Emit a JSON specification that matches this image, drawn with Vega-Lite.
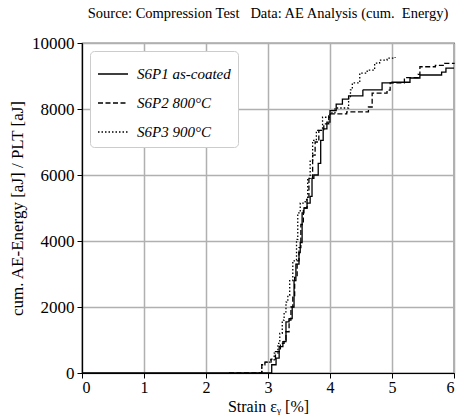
{
  "$schema": "https://vega.github.io/schema/vega-lite/v6.json",
  "autosize": "none",
  "width": 372,
  "height": 330,
  "padding": {"left": 82, "top": 43, "right": 2, "bottom": 42},
  "background": "white",
  "title": {
    "text": "Source: Compression Test\u00a0\u00a0\u00a0Data: AE Analysis (cum.\u00a0\u00a0Energy)",
    "font": "Liberation Serif",
    "fontSize": 14.5,
    "fontWeight": "normal",
    "color": "black",
    "anchor": "middle",
    "offset": 13
  },
  "datasets": {
    "curves": [
      {"series": "S6P1 as-coated", "strain": 0, "energy": 0},
      {"series": "S6P1 as-coated", "strain": 3.06, "energy": 250},
      {"series": "S6P1 as-coated", "strain": 3.13, "energy": 450},
      {"series": "S6P1 as-coated", "strain": 3.18, "energy": 800},
      {"series": "S6P1 as-coated", "strain": 3.24, "energy": 950},
      {"series": "S6P1 as-coated", "strain": 3.29, "energy": 1550},
      {"series": "S6P1 as-coated", "strain": 3.34, "energy": 1650},
      {"series": "S6P1 as-coated", "strain": 3.39, "energy": 2000},
      {"series": "S6P1 as-coated", "strain": 3.42, "energy": 2800},
      {"series": "S6P1 as-coated", "strain": 3.45, "energy": 3300},
      {"series": "S6P1 as-coated", "strain": 3.5, "energy": 3650},
      {"series": "S6P1 as-coated", "strain": 3.52, "energy": 3950},
      {"series": "S6P1 as-coated", "strain": 3.55, "energy": 4850},
      {"series": "S6P1 as-coated", "strain": 3.58, "energy": 5000},
      {"series": "S6P1 as-coated", "strain": 3.63, "energy": 5150},
      {"series": "S6P1 as-coated", "strain": 3.68, "energy": 5350},
      {"series": "S6P1 as-coated", "strain": 3.71, "energy": 5900},
      {"series": "S6P1 as-coated", "strain": 3.74, "energy": 6000},
      {"series": "S6P1 as-coated", "strain": 3.81, "energy": 6350},
      {"series": "S6P1 as-coated", "strain": 3.85, "energy": 7050},
      {"series": "S6P1 as-coated", "strain": 3.89, "energy": 7400},
      {"series": "S6P1 as-coated", "strain": 3.95, "energy": 7600},
      {"series": "S6P1 as-coated", "strain": 4.0, "energy": 7950},
      {"series": "S6P1 as-coated", "strain": 4.1, "energy": 8150},
      {"series": "S6P1 as-coated", "strain": 4.2, "energy": 8300},
      {"series": "S6P1 as-coated", "strain": 4.3, "energy": 8400},
      {"series": "S6P1 as-coated", "strain": 4.53, "energy": 8580},
      {"series": "S6P1 as-coated", "strain": 4.84, "energy": 8790},
      {"series": "S6P1 as-coated", "strain": 5.0, "energy": 8810},
      {"series": "S6P1 as-coated", "strain": 5.29, "energy": 8940},
      {"series": "S6P1 as-coated", "strain": 5.45, "energy": 9030},
      {"series": "S6P1 as-coated", "strain": 5.8, "energy": 9120},
      {"series": "S6P1 as-coated", "strain": 5.87, "energy": 9240},
      {"series": "S6P1 as-coated", "strain": 6.0, "energy": 9240},

      {"series": "S6P2 800°C", "strain": 2.37, "energy": 0},
      {"series": "S6P2 800°C", "strain": 2.9, "energy": 250},
      {"series": "S6P2 800°C", "strain": 2.95, "energy": 330},
      {"series": "S6P2 800°C", "strain": 3.05, "energy": 420},
      {"series": "S6P2 800°C", "strain": 3.12, "energy": 650},
      {"series": "S6P2 800°C", "strain": 3.2, "energy": 900},
      {"series": "S6P2 800°C", "strain": 3.26, "energy": 1000},
      {"series": "S6P2 800°C", "strain": 3.29, "energy": 1250},
      {"series": "S6P2 800°C", "strain": 3.34, "energy": 1600},
      {"series": "S6P2 800°C", "strain": 3.37, "energy": 2000},
      {"series": "S6P2 800°C", "strain": 3.4, "energy": 2300},
      {"series": "S6P2 800°C", "strain": 3.43, "energy": 2900},
      {"series": "S6P2 800°C", "strain": 3.47, "energy": 3400},
      {"series": "S6P2 800°C", "strain": 3.5, "energy": 3800},
      {"series": "S6P2 800°C", "strain": 3.53, "energy": 4500},
      {"series": "S6P2 800°C", "strain": 3.57, "energy": 5000},
      {"series": "S6P2 800°C", "strain": 3.63, "energy": 5300},
      {"series": "S6P2 800°C", "strain": 3.66, "energy": 5900},
      {"series": "S6P2 800°C", "strain": 3.72, "energy": 6600},
      {"series": "S6P2 800°C", "strain": 3.76, "energy": 7000},
      {"series": "S6P2 800°C", "strain": 3.82, "energy": 7350},
      {"series": "S6P2 800°C", "strain": 3.9, "energy": 7550},
      {"series": "S6P2 800°C", "strain": 3.98, "energy": 7850},
      {"series": "S6P2 800°C", "strain": 4.27, "energy": 7910},
      {"series": "S6P2 800°C", "strain": 4.62, "energy": 8060},
      {"series": "S6P2 800°C", "strain": 4.68, "energy": 8480},
      {"series": "S6P2 800°C", "strain": 4.92, "energy": 8570},
      {"series": "S6P2 800°C", "strain": 4.97, "energy": 8790},
      {"series": "S6P2 800°C", "strain": 5.2, "energy": 8950},
      {"series": "S6P2 800°C", "strain": 5.42, "energy": 9050},
      {"series": "S6P2 800°C", "strain": 5.45, "energy": 9280},
      {"series": "S6P2 800°C", "strain": 5.7, "energy": 9320},
      {"series": "S6P2 800°C", "strain": 5.85, "energy": 9380},
      {"series": "S6P2 800°C", "strain": 6.0, "energy": 9400},

      {"series": "S6P3 900°C", "strain": 2.85, "energy": 0},
      {"series": "S6P3 900°C", "strain": 2.9, "energy": 250},
      {"series": "S6P3 900°C", "strain": 2.95, "energy": 330},
      {"series": "S6P3 900°C", "strain": 3.03, "energy": 400},
      {"series": "S6P3 900°C", "strain": 3.1, "energy": 600},
      {"series": "S6P3 900°C", "strain": 3.16, "energy": 900},
      {"series": "S6P3 900°C", "strain": 3.19, "energy": 1200},
      {"series": "S6P3 900°C", "strain": 3.23, "energy": 1600},
      {"series": "S6P3 900°C", "strain": 3.26, "energy": 1850},
      {"series": "S6P3 900°C", "strain": 3.29, "energy": 2150},
      {"series": "S6P3 900°C", "strain": 3.32, "energy": 2350},
      {"series": "S6P3 900°C", "strain": 3.35, "energy": 2800},
      {"series": "S6P3 900°C", "strain": 3.4, "energy": 3400},
      {"series": "S6P3 900°C", "strain": 3.46, "energy": 4050},
      {"series": "S6P3 900°C", "strain": 3.48, "energy": 4850},
      {"series": "S6P3 900°C", "strain": 3.52, "energy": 5150},
      {"series": "S6P3 900°C", "strain": 3.6, "energy": 5250},
      {"series": "S6P3 900°C", "strain": 3.64, "energy": 5900},
      {"series": "S6P3 900°C", "strain": 3.68, "energy": 6450},
      {"series": "S6P3 900°C", "strain": 3.72, "energy": 7050},
      {"series": "S6P3 900°C", "strain": 3.78, "energy": 7350},
      {"series": "S6P3 900°C", "strain": 3.88, "energy": 7750},
      {"series": "S6P3 900°C", "strain": 4.0, "energy": 7880},
      {"series": "S6P3 900°C", "strain": 4.08, "energy": 8030},
      {"series": "S6P3 900°C", "strain": 4.3, "energy": 8330},
      {"series": "S6P3 900°C", "strain": 4.33, "energy": 8580},
      {"series": "S6P3 900°C", "strain": 4.36, "energy": 8790},
      {"series": "S6P3 900°C", "strain": 4.48, "energy": 9090},
      {"series": "S6P3 900°C", "strain": 4.6, "energy": 9180},
      {"series": "S6P3 900°C", "strain": 4.72, "energy": 9390},
      {"series": "S6P3 900°C", "strain": 4.8, "energy": 9480},
      {"series": "S6P3 900°C", "strain": 4.92, "energy": 9540},
      {"series": "S6P3 900°C", "strain": 5.05, "energy": 9570}
    ]
  },
  "data": {"name": "curves"},
  "mark": {"type": "line", "interpolate": "step-after", "color": "black", "strokeWidth": 1.3, "strokeCap": "butt"},
  "encoding": {
    "x": {
      "field": "strain", "type": "quantitative",
      "scale": {"domain": [0, 6], "nice": false, "zero": false},
      "axis": {"values": [0, 1, 2, 3, 4, 5, 6], "title": "Strain εᵧ [%]", "format": "d", "labelPadding": 1, "titlePadding": 3, "labelFontSize": 16, "titleFontSize": 16}
    },
    "y": {
      "field": "energy", "type": "quantitative",
      "scale": {"domain": [0, 10000], "nice": false},
      "axis": {"values": [0, 2000, 4000, 6000, 8000, 10000], "title": "cum. AE-Energy [aJ] / PLT [aJ]", "format": "d", "labelPadding": 3, "titlePadding": 5}
    },
    "strokeDash": {
      "field": "series", "type": "nominal",
      "scale": {"domain": ["S6P1 as-coated", "S6P2 800°C", "S6P3 900°C"], "range": [[1, 0], [5, 2.5], [1.5, 2]]},
      "legend": {
        "title": null,
        "orient": "top-left",
        "offset": 8,
        "padding": 7,
        "fillColor": "white",
        "strokeColor": "#cccccc",
        "cornerRadius": 4,
        "symbolType": "stroke",
        "symbolSize": 900,
        "symbolStrokeWidth": 1.3,
        "symbolStrokeColor": "black",
        "labelFont": "Liberation Serif",
        "labelFontStyle": "italic",
        "labelFontSize": 15,
        "labelColor": "black",
        "rowPadding": 5,
        "labelOffset": 8
      }
    }
  },
  "config": {
    "font": "Liberation Serif",
    "view": {"stroke": "black", "strokeWidth": 1.2},
    "axis": {
      "labelFont": "Liberation Serif",
      "titleFont": "Liberation Serif",
      "labelFontSize": 17,
      "titleFontSize": 17,
      "titleFontWeight": "normal",
      "labelColor": "black",
      "titleColor": "black",
      "domainColor": "black",
      "domainWidth": 1.2,
      "tickColor": "black",
      "tickSize": 5,
      "tickWidth": 1,
      "gridColor": "#b0b0b0",
      "gridWidth": 1.5,
      "gridOpacity": 1
    }
  }
}
